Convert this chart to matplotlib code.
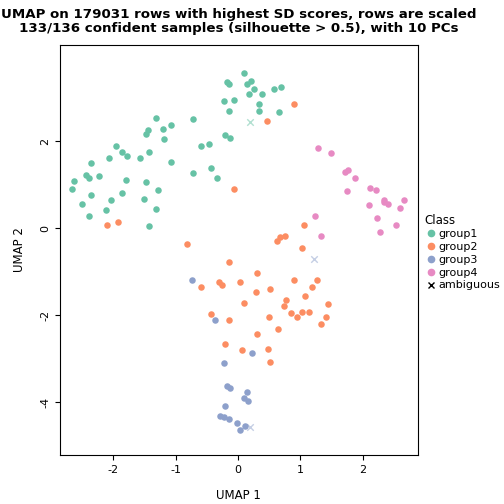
import matplotlib
matplotlib.use("Agg")
import matplotlib.pyplot as plt
from matplotlib.lines import Line2D

g1 = [(0.10,3.56),(-0.18,3.35),(-0.15,3.30),(0.14,3.32),(0.21,3.39),(0.26,3.19),(0.17,3.07),(0.38,3.07),(0.58,3.19),(0.69,3.23),
(-0.23,2.91),(-0.07,2.94),(0.34,2.86),(-0.14,2.70),(0.33,2.70),(0.66,2.67),(-1.31,2.52),(-1.07,2.36),(-1.20,2.27),(-1.44,2.25),
(-1.47,2.17),(-1.19,2.04),(-0.72,2.50),(-0.20,2.14),(-0.13,2.08),(-0.59,1.88),(-0.46,1.92),(-1.96,1.89),(-1.86,1.75),(-1.77,1.66),
(-2.07,1.62),(-1.57,1.60),(-1.42,1.74),(-1.08,1.52),(-2.36,1.49),(-2.43,1.23),(-2.38,1.14),(-2.22,1.19),(-1.79,1.10),(-1.48,1.05),
(-2.63,1.07),(-2.65,0.89),(-2.35,0.75),(-1.86,0.80),(-1.28,0.87),(-2.04,0.64),(-1.50,0.66),(-0.72,1.26),(-0.43,1.37),(-0.33,1.14),
(-2.50,0.55),(-2.12,0.41),(-1.32,0.44),(-2.38,0.27),(-1.42,0.04)]
g2 = [(0.90,2.84),(0.47,2.47),(-2.10,0.08),(-1.92,0.13),(-0.07,0.90),(1.06,0.08),(0.63,-0.29),(0.68,-0.20),(0.76,-0.18),(-0.82,-0.36),
(1.03,-0.46),(-0.14,-0.79),(0.30,-1.03),(-0.30,-1.23),(-0.26,-1.31),(0.04,-1.25),(-0.59,-1.36),(0.29,-1.46),(0.52,-1.40),(0.89,-1.20),
(1.27,-1.20),(1.18,-1.36),(1.08,-1.57),(0.77,-1.65),(0.74,-1.79),(1.44,-1.75),(0.10,-1.73),(0.85,-1.95),(0.94,-2.04),(1.03,-1.93),
(1.14,-1.92),(1.41,-2.05),(1.33,-2.21),(0.50,-2.05),(-0.43,-1.98),(-0.15,-2.11),(0.645,-2.31),(0.31,-2.44),(-0.20,-2.67),(0.07,-2.81),
(0.475,-2.79),(0.52,-3.09)]
g3 = [(-0.74,-1.20),(-0.36,-2.11),(0.22,-2.88),(-0.22,-3.11),(-0.18,-3.62),(-0.12,-3.67),(0.14,-3.78),(0.10,-3.91),(0.16,-3.98),
(-0.20,-4.10),(-0.29,-4.31),(-0.22,-4.34),(-0.14,-4.40),(-0.01,-4.48),(0.12,-4.54),(0.04,-4.65)]
g4 = [(1.28,1.84),(1.49,1.72),(1.72,1.29),(1.76,1.34),(1.88,1.15),(1.74,0.84),(2.11,0.93),(2.21,0.88),(2.34,0.65),(2.34,0.59),
(2.41,0.56),(2.66,0.64),(2.10,0.53),(2.60,0.45),(2.22,0.23),(2.53,0.07),(2.27,-0.09),(1.23,0.28),(1.33,-0.19)]
amb = [(0.20,2.44,0),(1.22,-0.71,2),(0.19,-4.58,2)]
colors = ["#66C2A5","#FC8D62","#8DA0CB","#E78AC3"]
labels = ["group1","group2","group3","group4"]

fig = plt.figure(figsize=(5.04,5.04), dpi=100)
ax = fig.add_axes([0.119,0.097,0.71,0.814])
for g,c in zip([g1,g2,g3,g4],colors):
    ax.scatter([p[0] for p in g],[p[1] for p in g],s=22,color=c,linewidths=0)
for x,y,k in amb:
    ax.scatter([x],[y],marker="x",s=22,color=colors[k],alpha=0.5,linewidths=1)
ax.set_xlim(-2.85,2.88); ax.set_ylim(-5.22,4.21)
ax.set_xticks([-2,-1,0,1,2]); ax.set_xticklabels(["-2","-1","0","1","2"])
ax.set_yticks([-4,-2,0,2]); ax.set_yticklabels(["-4","-2","0","2"],rotation=90,va="center")
ax.tick_params(labelsize=8)
ax.set_xlabel("UMAP 1",fontsize=8.5,labelpad=10); ax.set_ylabel("UMAP 2",fontsize=8.5,labelpad=10)
ax.set_title("UMAP on 179031 rows with highest SD scores, rows are scaled\n133/136 confident samples (silhouette > 0.5), with 10 PCs",
             fontsize=9.6,fontweight="bold",linespacing=1.1,pad=9)
handles = [Line2D([],[],marker="o",ls="",color=c,markersize=4.5,label=l) for c,l in zip(colors,labels)]
handles.append(Line2D([],[],marker="x",ls="",color="black",markersize=4.5,label="ambiguous"))
fig.legend(handles=handles,title="Class",loc="center left",bbox_to_anchor=(0.833,0.5),frameon=False,
           fontsize=8,title_fontsize=8.5,handletextpad=0.1,handlelength=1.2,labelspacing=0.25,alignment="left",borderaxespad=0)
fig.savefig("out.png",dpi=100)
